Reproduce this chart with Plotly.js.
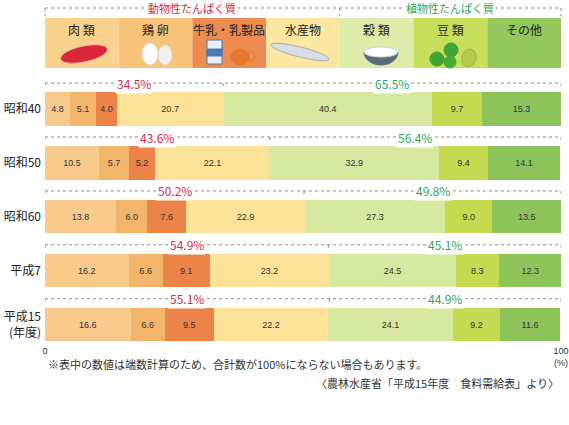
<!DOCTYPE html>
<html>
<head>
<meta charset="utf-8">
<script src="https://cdn.plot.ly/plotly-3.0.1.min.js"></script>
<style>
  html, body { margin: 0; padding: 0; background: #fff; }
  #chart { width: 569px; height: 425px; }
</style>
</head>
<body>
<div id="chart"></div>
<script>
// data
var years = ['昭和40', '昭和50', '昭和60', '平成7', '平成15<br>(年度)'];
var groups = ['肉 類', '鶏 卵', '牛乳・乳製品', '水産物', '穀 類', '豆 類', 'その他'];
var meat  = [4.8, 10.5, 13.8, 16.2, 16.6];
var egg   = [5.1, 5.7, 6.0, 6.6, 6.6];
var milk  = [4.0, 5.2, 7.6, 9.1, 9.5];
var fish  = [20.7, 22.1, 22.9, 23.2, 22.2];
var grain = [40.4, 32.9, 27.3, 24.5, 24.1];
var beans = [9.7, 9.4, 9.0, 8.3, 9.2];
var other = [15.3, 14.1, 13.5, 12.3, 11.6];
var animalPct = [34.5, 43.6, 50.2, 54.9, 55.1];
var plantPct  = [65.5, 56.4, 49.8, 45.1, 44.9];

var barColors = ['#F8CA8C', '#F3B56B', '#EC8348', '#FCE296', '#D7E8A1', '#C4DA50', '#8CC45A'];
var headColors = ['#F9D38E', '#F8C47A', '#ED8B50', '#FDE6A0', '#DEECAA', '#C6DE5A', '#92C85C'];
var RED = '#DC2846', GREEN = '#2FA65A', DASH = '#8a8a8a';
var FONT = '"Noto Sans CJK JP", "Noto Sans", sans-serif';

// pixel -> paper helpers (plot area is x 45..561, y 68..344)
function xp(px) { return (px - 45) / 516; }
function yp(py) { return (344 - py) / 276; }

var series = [meat, egg, milk, fish, grain, beans, other];
var ys = [0, 1, 2, 3, 4];
var data = series.map(function (vals, k) {
    return {
        type: 'bar',
        orientation: 'h',
        name: groups[k],
        x: vals,
        y: ys,
        width: 0.62,
        marker: { color: barColors[k], line: { width: 0 } },
        text: vals.map(function (v) { return v.toFixed(1); }),
        textposition: 'inside',
        insidetextanchor: 'middle',
        textangle: 0,
        textfont: { size: 9, color: '#333', family: 'Arial, sans-serif' },
        hoverinfo: 'skip'
    };
});

var shapes = [];
var annotations = [];

function dline(x0, y0, x1, y1, xref, yref) {
    shapes.push({ type: 'line', xref: xref, yref: yref, x0: x0, y0: y0, x1: x1, y1: y1,
        line: { color: DASH, width: 1, dash: 'dot' } });
}
function label(x, y, xref, yref, text, color, size, xa, bg) {
    var a = { x: x, y: y, xref: xref, yref: yref, text: text, showarrow: false,
        xanchor: xa || 'center', yanchor: 'middle',
        font: { size: size, color: color, family: FONT } };
    if (bg) { a.bgcolor = '#fff'; a.borderpad = 1; }
    annotations.push(a);
}

// brackets above each bar
ys.forEach(function (i) {
    var yb = i - 0.48;
    dline(0, yb, 100, yb, 'x', 'y');
    [0, animalPct[i], 100].forEach(function (xv) { dline(xv, yb, xv, yb + 0.08, 'x', 'y'); });
    label(animalPct[i] / 2, yb, 'x', 'y', animalPct[i].toFixed(1) + '%', RED, 12, 'center', true);
    label((animalPct[i] + 100) / 2, yb, 'x', 'y', plantPct[i].toFixed(1) + '%', GREEN, 12, 'center', true);
});

// header cells
groups.forEach(function (g, k) {
    shapes.push({ type: 'rect', xref: 'paper', yref: 'paper', x0: k / 7, x1: (k + 1) / 7,
        y0: yp(68), y1: yp(18), fillcolor: headColors[k], line: { width: 0 }, layer: 'below' });
    label((k + 0.5) / 7, yp(29), 'paper', 'paper', g, '#222', 12, 'center', false);
});

// header bracket
var hy = yp(8), split = 4 / 7;
dline(0, hy, 1, hy, 'paper', 'paper');
[0, split, 1].forEach(function (xv) { dline(xv, hy, xv, yp(16), 'paper', 'paper'); });
label(split / 2, hy, 'paper', 'paper', '動物性たんぱく質', RED, 11, 'center', true);
label((split + 1) / 2, hy, 'paper', 'paper', '植物性たんぱく質', GREEN, 11, 'center', true);

// simple icons in the header
function ell(cx, cy, rx, ry, ang, fill, lc, a0, a1) {
    a0 = a0 === undefined ? 0 : a0; a1 = a1 === undefined ? 2 * Math.PI : a1;
    var r = ang * Math.PI / 180, p = '', n = 28;
    for (var j = 0; j <= n; j++) {
        var t = a0 + (a1 - a0) * j / n;
        var dx = rx * Math.cos(t), dy = ry * Math.sin(t);
        var px = cx + dx * Math.cos(r) - dy * Math.sin(r);
        var py = cy + dx * Math.sin(r) + dy * Math.cos(r);
        p += (j ? 'L' : 'M') + xp(px).toFixed(4) + ',' + yp(py).toFixed(4);
    }
    shapes.push({ type: 'path', xref: 'paper', yref: 'paper', path: p + 'Z', fillcolor: fill,
        line: { color: lc || fill, width: 1 } });
}
function box(x0, y0, x1, y1, fill, lc) {
    shapes.push({ type: 'rect', xref: 'paper', yref: 'paper', x0: xp(x0), x1: xp(x1), y0: yp(y1), y1: yp(y0),
        fillcolor: fill, line: { color: lc || fill, width: 1 } });
}
// meat
ell(84, 54, 24, 8, -12, '#D9283C', '#E9C0A0');
// eggs
ell(150, 54, 8, 11, 0, '#FFFFFF', '#E2D8CC');
ell(165, 55, 7, 10, 0, '#F3F1EE', '#E2D8CC');
// milk carton + cup
box(207, 40, 222, 64, '#E6EEF8', '#4A78B8');
box(207, 49, 222, 56, '#4A78B8');
ell(240, 57, 9, 8, 0, '#E8762E');
ell(251, 56, 4, 5, 0, 'rgba(0,0,0,0)', '#E8762E');
// fish
ell(300, 52, 30, 5, 14, '#D9DEE6', '#A3ACB8');
// rice bowl
ell(381, 52, 17, 13, 0, '#5B6E7B', '#5B6E7B', 0, Math.PI);
ell(381, 52, 17, 5, 0, '#FFFFFF', '#D0D0D0');
// beans
ell(437, 59, 7, 7, 0, '#3FA535');
ell(451, 50, 7, 7, 0, '#3FA535');
ell(450, 62, 6, 6, 0, '#45AC38');
ell(469, 58, 7, 9, 15, '#B9C94E', '#A0B040');

// footnotes
label(xp(46), yp(364), 'paper', 'paper', '※表中の数値は端数計算のため、合計数が100%にならない場合もあります。', '#333', 11, 'left', false);
label(xp(561), yp(383), 'paper', 'paper', '〈農林水産省「平成15年度　食料需給表」より〉', '#333', 11, 'right', false);

var layout = {
    width: 569,
    height: 425,
    margin: { l: 45, r: 8, t: 68, b: 81 },
    barmode: 'stack',
    showlegend: false,
    paper_bgcolor: '#fff',
    plot_bgcolor: 'rgba(0,0,0,0)',
    font: { family: FONT, size: 12, color: '#222' },
    xaxis: {
        range: [0, 100],
        tickvals: [0, 100],
        ticktext: ['0', '100<br>(%)'],
        tickfont: { size: 9, color: '#333', family: 'Arial, sans-serif' },
        showgrid: false, zeroline: false, showline: false, ticks: '', fixedrange: true
    },
    yaxis: {
        range: [4.36, -0.76],
        tickvals: ys,
        ticktext: years,
        tickfont: { size: 12, color: '#222', family: FONT },
        ticklabelstandoff: 3,
        showgrid: false, zeroline: false, showline: false, ticks: '', fixedrange: true
    },
    shapes: shapes,
    annotations: annotations
};

Plotly.newPlot('chart', data, layout, { displayModeBar: false, staticPlot: true });
</script>
</body>
</html>
